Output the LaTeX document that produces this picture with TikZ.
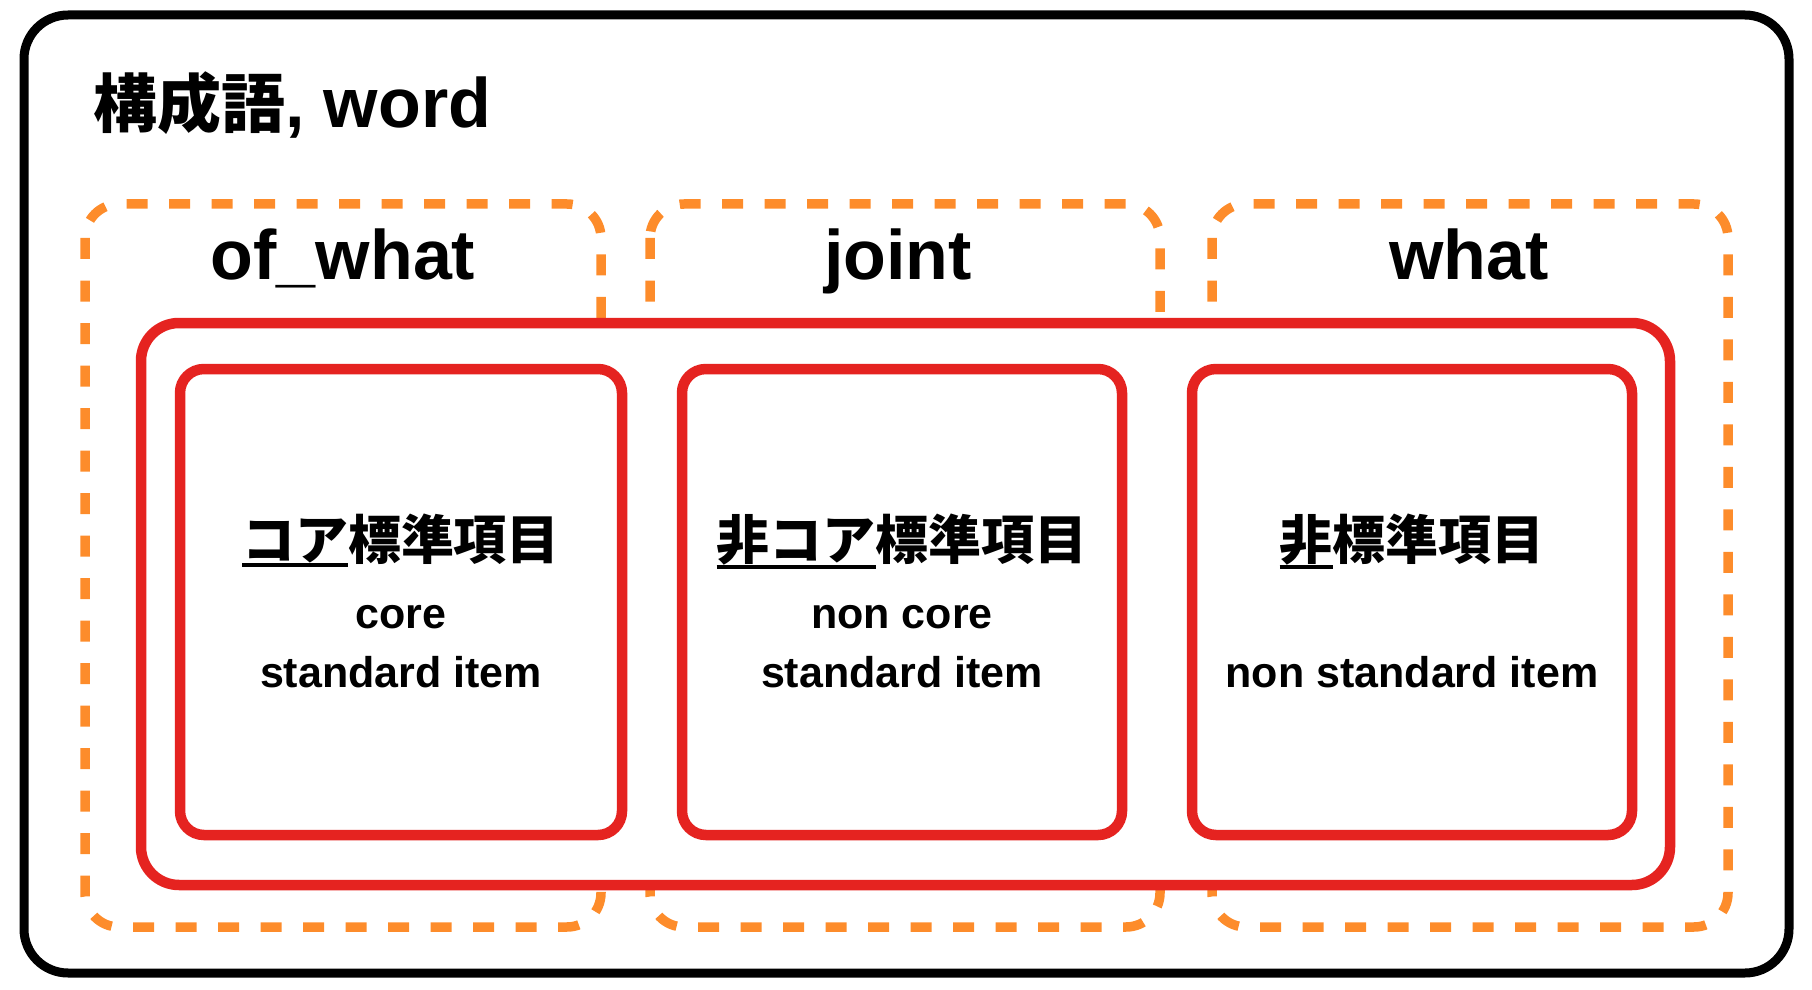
\documentclass[tikz,border=0pt]{standalone}
\usepackage{fontspec}
\setmainfont{Liberation Sans}
\newfontfamily\jpfont{Noto Sans CJK JP}
\usepackage{tikz}
\definecolor{redline}{RGB}{229, 35, 32}
\definecolor{orangeline}{RGB}{253, 140, 43}
\newsavebox{\ulbox}
\newcommand*{\ulpart}[1]{\sbox{\ulbox}{#1}%
  \rlap{\rule[-\dimexpr\dp\ulbox+2pt\relax]{\wd\ulbox}{2pt}}\usebox{\ulbox}}

\begin{document}
\begin{tikzpicture}[x=0.5pt, y=-0.5pt,
  group/.style={draw=orangeline, line width=4.75pt,
    dash pattern=on 10.5pt off 10.75pt, rounded corners=17pt},
  item/.style={draw=redline, fill=white, line width=5.25pt},
  label/.style={anchor=base, font=\bfseries\fontsize{35}{42}\selectfont},
  heading/.style={anchor=base, font=\jpfont\bfseries\fontsize{26.5}{32}\selectfont},
  body/.style={anchor=base, font=\bfseries\fontsize{21.5}{26}\selectfont}]

  \useasboundingbox (0, 0) rectangle (1812, 990);
  \draw [line width=4.5pt, rounded corners=22pt] (24, 15) rectangle (1789, 973);

  \node[anchor=base west, font=\bfseries\fontsize{35}{42}\selectfont] (title) at (86, 128)
    {{\jpfont\fontsize{32}{38}\selectfont 構成語}, word};

  \draw [group] (85, 204) rectangle +(516, 723);
  \draw [group] (650, 204) rectangle +(510, 723);
  \draw [group] (1212, 204) rectangle +(516, 723);

  \node[label] (ofwhat) at (343, 279) { of\_what };
  \node[label] (joint) at (898, 279) { joint };
  \node[label] (what) at (1469, 279) { what };

  \draw [item, rounded corners=19pt] (141, 323) rectangle (1670, 885);

  \draw [item, rounded corners=12pt] (180, 369) rectangle +(442, 466);
  \node[heading] (corehead) at (401, 559) { \ulpart{コア}標準項目 };
  \node[body] (core) at (401, 628) { core };
  \node[body] (coreitem) at (401, 687) { standard item };

  \draw [item, rounded corners=12pt] (682, 369) rectangle +(440, 466);
  \node[heading] (nonhead) at (902, 559) { \ulpart{非コア}標準項目 };
  \node[body] (noncore) at (902, 628) { non core };
  \node[body] (nonitem) at (902, 687) { standard item };

  \draw [item, rounded corners=12pt] (1192, 369) rectangle +(440, 466);
  \node[heading] (stdhead) at (1412, 559) { \ulpart{非}標準項目 };
  \node[body] (stditem) at (1412, 687) { non standard item };

\end{tikzpicture}
\end{document}
